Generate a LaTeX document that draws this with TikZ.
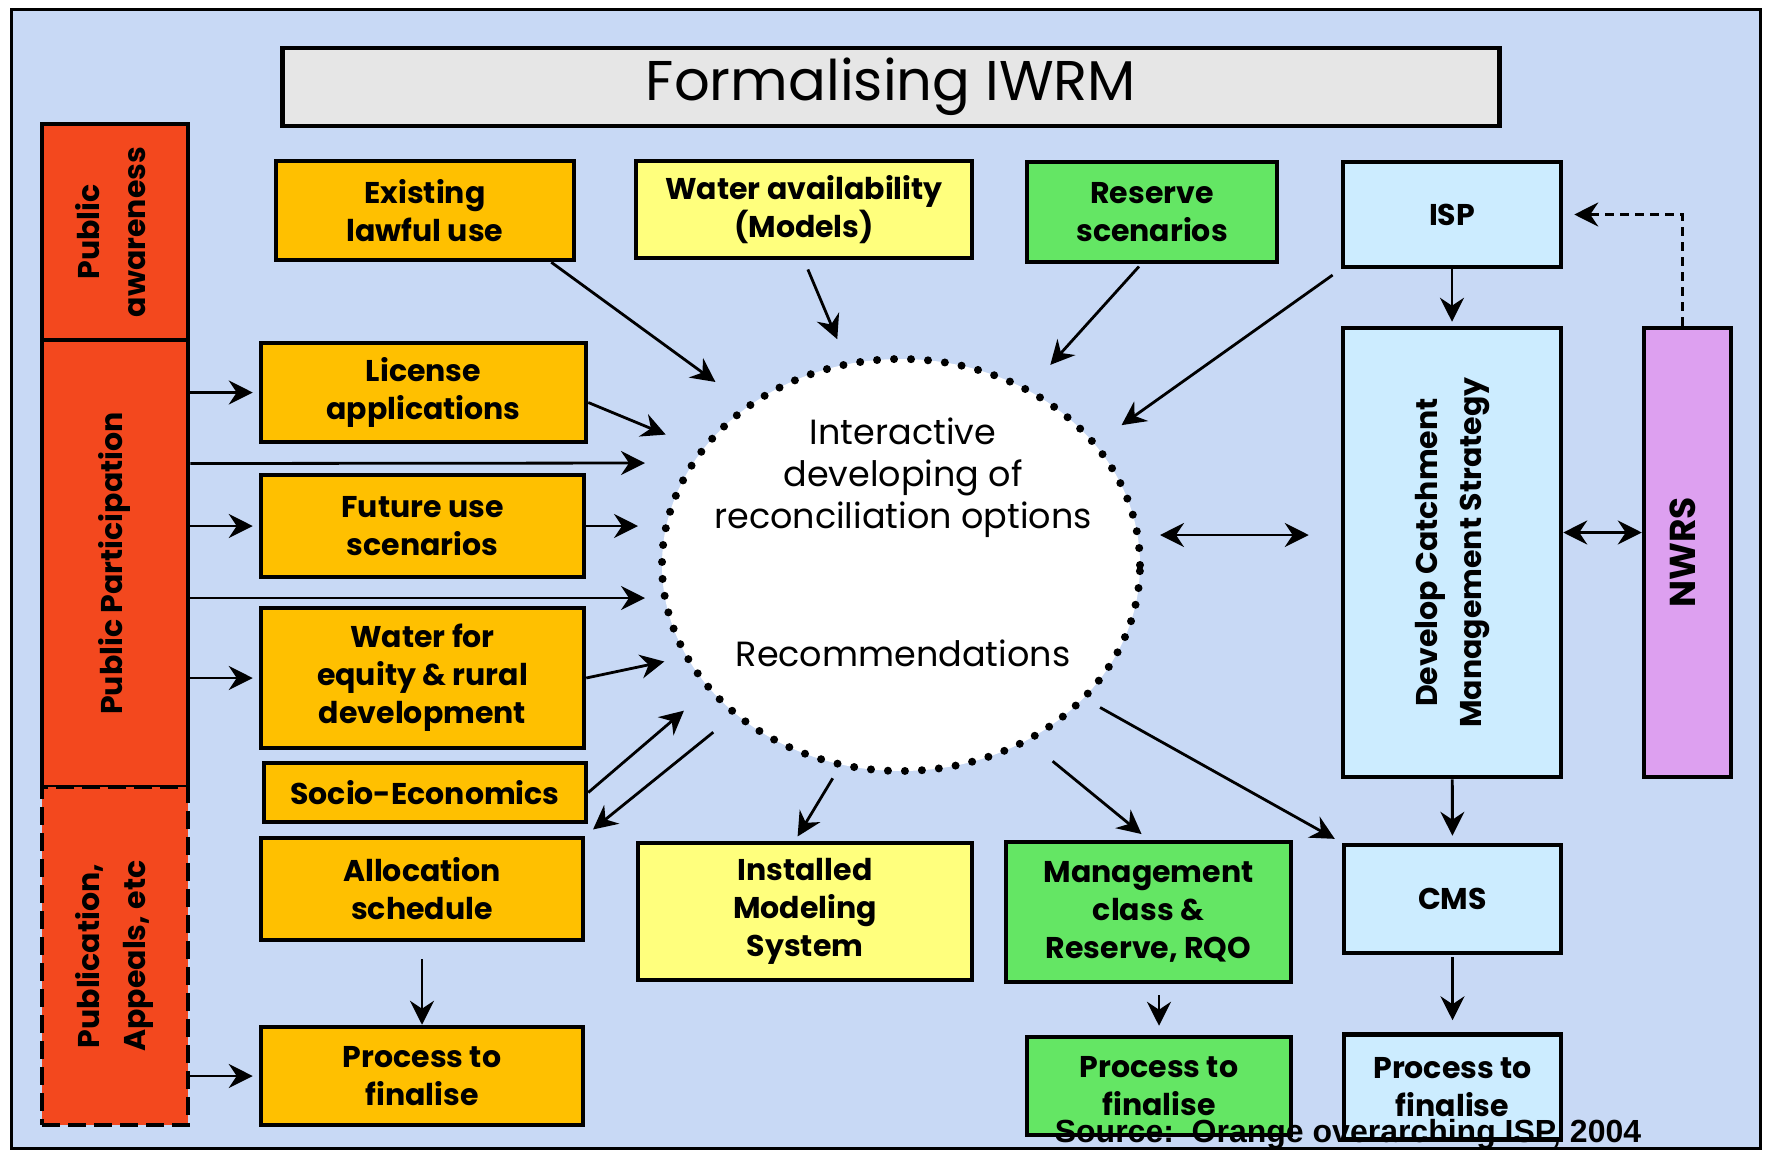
\documentclass[tikz,border=0pt]{standalone}
\usepackage{fontspec}
\setmainfont{Poppins}
\newfontfamily\srcfont{Liberation Sans}
\usetikzlibrary{arrows.meta,shapes.geometric}

\definecolor{bgblue}{RGB}{200,217,245}
\definecolor{redorange}{RGB}{243,72,30}
\definecolor{amber}{RGB}{255,192,0}
\definecolor{paleyellow}{RGB}{255,255,125}
\definecolor{leafgreen}{RGB}{100,230,100}
\definecolor{iceblue}{RGB}{204,236,255}
\definecolor{lilac}{RGB}{221,160,240}
\definecolor{titlegray}{RGB}{230,230,230}

\newcommand{\uptext}[1]{\rotatebox{90}{\begin{tabular}{@{}c@{}}#1\end{tabular}}}

\begin{document}
\begin{tikzpicture}[x=1pt,y=-1pt,
  box/.style={draw, line width=4.5pt, align=center, inner sep=0pt,
    font=\fontsize{30}{38}\selectfont\bfseries},
  circtext/.style={align=center, inner sep=0pt, font=\fontsize{35}{42}\selectfont},
  arr/.style={line width=2.8pt, -{Stealth[length=24pt,width=24pt,inset=8pt]}},
  dbl/.style={line width=2.8pt,
    {Stealth[length=24pt,width=24pt,inset=8pt]}-{Stealth[length=24pt,width=24pt,inset=8pt]}}]

  \useasboundingbox (0,0) rectangle (1781,1160);

  % frame
  \fill[white] (0,0) rectangle (1781,1160);
  \draw[line width=3pt, fill=bgblue] (11,9) rectangle (1760,1148);

  % title
  \node[box, fill=titlegray, minimum width=1217pt, minimum height=78pt,
    font=\fontsize{56}{60}\selectfont] (title) at (891,87) {Formalising IWRM};

  % left column
  \node[box, fill=redorange, minimum width=146pt, minimum height=216pt] (aware) at (115,232)
    {\uptext{Public\\[8pt]awareness}};
  \node[box, fill=redorange, minimum width=146pt, minimum height=447pt] (partic) at (115,563.5)
    {\uptext{Public Participation}};
  \node[box, fill=redorange, dash pattern=on 18pt off 8pt, minimum width=146pt, minimum height=338pt]
    (publ) at (115,956) {\uptext{Publication,\\[8pt]Appeals, etc}};

  % boxes
  \node[box, fill=amber, minimum width=298pt, minimum height=99pt] (exist) at (425,210.5) {Existing\\lawful use};
  \node[box, fill=paleyellow, minimum width=336pt, minimum height=97pt] (water) at (804,209.5) {Water availability\\(Models)};
  \node[box, fill=leafgreen, minimum width=250pt, minimum height=100pt] (reserve) at (1152,212) {Reserve\\scenarios};
  \node[box, fill=iceblue, minimum width=218pt, minimum height=105pt] (isp) at (1452,214.5) {ISP};
  \node[box, fill=amber, minimum width=325pt, minimum height=99pt] (license) at (423.5,392.5) {License\\applications};
  \node[box, fill=amber, minimum width=323pt, minimum height=102pt] (future) at (422.5,526) {Future use\\scenarios};
  \node[box, fill=amber, minimum width=323pt, minimum height=140pt] (equity) at (422.5,678) {Water for\\equity \& rural\\development};
  \node[box, fill=amber, minimum width=322pt, minimum height=59pt] (socio) at (425,792.5) {Socio-Economics};
  \node[box, fill=amber, minimum width=322pt, minimum height=102pt] (alloc) at (422,889) {Allocation\\schedule};
  \node[box, fill=amber, minimum width=322pt, minimum height=98pt] (procA) at (422,1076) {Process to\\finalise};
  \node[box, fill=paleyellow, minimum width=334pt, minimum height=137pt] (install) at (805,911.5) {Installed\\Modeling\\System};
  \node[box, fill=leafgreen, minimum width=285pt, minimum height=140pt] (mgmt) at (1148.5,912) {Management\\class \&\\Reserve, RQO};
  \node[box, fill=leafgreen, minimum width=264pt, minimum height=98pt] (procB) at (1159,1086) {Process to\\finalise};
  \node[box, fill=iceblue, minimum width=218pt, minimum height=449pt] (dcms) at (1452,552.5)
    {\uptext{Develop Catchment\\[6pt]Management Strategy}};
  \node[box, fill=lilac, minimum width=87pt, minimum height=449pt,
    font=\fontsize{36}{40}\selectfont\bfseries] (nwrs) at (1687.5,552.5) {\uptext{NWRS}};
  \node[box, fill=iceblue, minimum width=217pt, minimum height=108pt] (cms) at (1452.5,899) {CMS};
  \node[box, fill=iceblue, minimum width=217pt, minimum height=105pt] (procC) at (1452.5,1087) {Process to\\finalise};

  % circle
  \node[draw, ellipse, fill=white, line width=8pt, dash pattern=on 0pt off 17pt, line cap=round,
    minimum width=478pt, minimum height=412pt, inner sep=0pt] (circ) at (901,565) {};
  \node[circtext] (interact) at (903,478) {Interactive\\developing of\\reconciliation options};
  \node[circtext] (recom) at (903,653) {Recommendations};

  % participation arrows
  \draw[arr, shorten >=6pt] (partic.east |- license.west) -- (license.west);
  \draw[arr, shorten >=6pt] (partic.east |- future.west) -- (future.west);
  \draw[arr, shorten >=6pt] (partic.east |- equity.west) -- (equity.west);
  \draw[arr, shorten >=6pt] (publ.east |- procA.west) -- (procA.west);
  \draw[arr, shorten >=13pt] ([yshift=100pt]partic.east) -- ([yshift=102pt]circ.west);
  \draw[arr, shorten >=13pt] ([yshift=-34.5pt]partic.east) -- ([yshift=-33pt]circ.west);

  % into circle
  \draw[arr, shorten >=37pt] ([xshift=-25pt]exist.south east) -- (circ.134);
  \draw[arr, shorten <=10pt, shorten >=23pt] (water.south) -- (circ.105);
  \draw[arr, shorten <=3pt, shorten >=30pt] ([xshift=-11pt]reserve.south) -- (circ.54);
  \draw[arr, shorten <=10pt, shorten >=29pt] (isp.south west) -- (circ.32);
  \draw[arr, shorten >=36pt] ([yshift=-10pt]license.east) -- (circ.150);
  \draw[arr, shorten >=20pt] (future.east) -- (future.east -| circ.west);
  \draw[arr, shorten >=19pt] (equity.east) -- (circ.203);
  \draw[arr, shorten >=30pt] (socio.east) -- (circ.213);

  % out of circle
  \draw[arr, shorten <=25pt, shorten >=10pt] (circ.222) -- (alloc.north east);
  \draw[arr, shorten <=12pt, shorten >=5pt] (circ.253) -- ([xshift=-10pt]install.north);
  \draw[arr, shorten <=29pt, shorten >=9pt] (circ.306) -- (mgmt.north);
  \draw[arr, shorten <=15pt, shorten >=8pt] (circ.324) -- (cms.north west);

  % right side
  \draw[arr, shorten >=4pt] (isp) -- (dcms);
  \draw[arr, shorten >=7pt] (dcms) -- (cms);
  \draw[arr, shorten <=2pt, shorten >=12pt] (cms) -- (procC);
  \draw[arr, shorten <=11pt, shorten >=9pt] (mgmt.south -| procB.north) -- (procB.north);
  \draw[arr, shorten <=17pt] (alloc) -- (procA);
  \draw[dbl, shorten <=16pt, shorten >=32pt] ([yshift=30pt]circ.east) -- ([yshift=17.5pt]dcms.west);
  \draw[dbl] ([yshift=20pt]dcms.east) -- ([yshift=20pt]nwrs.west);
  \draw[arr, dash pattern=on 9pt off 6pt, shorten >=11pt] ([xshift=-5pt]nwrs.north) |- (isp.east);

  % source
  \node[font=\srcfont\bfseries\fontsize{32}{34}\selectfont, anchor=base, inner sep=0pt] (src)
    at (1348,1142) {Source:\ \ Orange overarching ISP, 2004};
\end{tikzpicture}
\end{document}
